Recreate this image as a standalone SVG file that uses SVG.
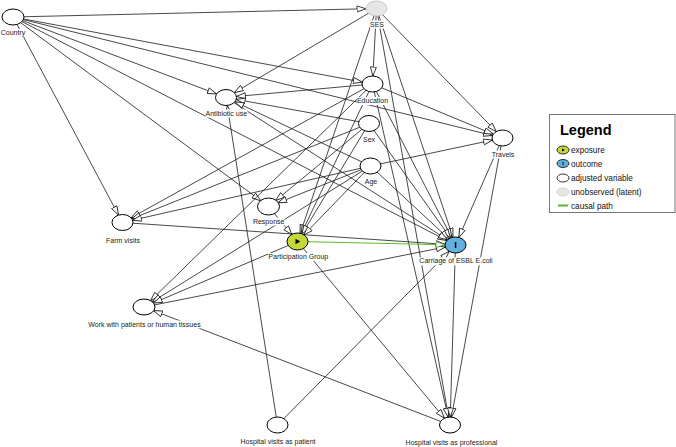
<svg xmlns="http://www.w3.org/2000/svg" width="676" height="447" viewBox="0 0 676 447">
<style>
.e{stroke:#1a1a1a;stroke-width:0.8;fill:none;marker-end:url(#ah)}
.n{fill:#fff;stroke:#000;stroke-width:1}
.lb{font-family:"Liberation Sans",Arial,sans-serif;font-size:7px;fill:#222;text-anchor:middle}
.bg{fill:#fff}
.lg{font-family:"Liberation Sans",Arial,sans-serif;font-size:8.2px;fill:#111}
</style>
<defs>
<marker id="ah" markerUnits="userSpaceOnUse" markerWidth="11" markerHeight="8" refX="9.5" refY="3.5" orient="auto">
<path d="M0.5,0.5 L9.5,3.5 L0.5,6.5 Z" fill="#fff" stroke="#111" stroke-width="0.8"/>
</marker>
<marker id="ahg" markerUnits="userSpaceOnUse" markerWidth="11" markerHeight="8" refX="9.5" refY="3.5" orient="auto">
<path d="M0.5,0.5 L9.5,3.5 L0.5,6.5 Z" fill="#fff" stroke="#4a9a2a" stroke-width="0.8"/>
</marker>
</defs>
<rect width="676" height="447" fill="#fff"/>
<g id="connectors">
<path class="e" d="M13,17 L366.0,8.75"/>
<path class="e" d="M13,17 L362.3,82.1"/>
<path class="e" d="M13,17 L492.5,135.5"/>
<path class="e" d="M13,17 L216.6,93.9"/>
<path class="e" d="M13,17 L446.8,240.5"/>
<path class="e" d="M13,17 L261.0,200.9"/>
<path class="e" d="M13,17 L118.5,215.1"/>
<path class="e" d="M376.5,8.5 L234.3,92.6"/>
<path class="e" d="M376.5,8.5 L372.9,76.0"/>
<path class="e" d="M376.5,8.5 L496.3,131.6"/>
<path class="e" d="M376.5,8.5 L300.1,233.8"/>
<path class="e" d="M376.5,8.5 L452.9,237.2"/>
<path class="e" d="M376.5,8.5 L448.6,417.1"/>
<path class="e" d="M372.5,84 L236.4,96.5"/>
<path class="e" d="M372.5,84 L493.3,134.2"/>
<path class="e" d="M372.5,84 L131.0,217.8"/>
<path class="e" d="M372.5,84 L301.1,234.0"/>
<path class="e" d="M372.5,84 L451.7,237.6"/>
<path class="e" d="M372.5,84 L448.2,417.1"/>
<path class="e" d="M372.5,84 L150.5,300.7"/>
<path class="e" d="M369,123.5 L236.2,99.4"/>
<path class="e" d="M369,123.5 L131.8,218.8"/>
<path class="e" d="M369,123.5 L275.6,200.6"/>
<path class="e" d="M369,123.5 L301.9,234.2"/>
<path class="e" d="M369,123.5 L450.5,238.0"/>
<path class="e" d="M370.5,166 L234.9,101.7"/>
<path class="e" d="M370.5,166 L492.4,140.1"/>
<path class="e" d="M370.5,166 L132.6,220.2"/>
<path class="e" d="M370.5,166 L277.8,202.8"/>
<path class="e" d="M370.5,166 L303.7,235.1"/>
<path class="e" d="M370.5,166 L448.9,238.8"/>
<path class="e" d="M370.5,166 L152.1,301.9"/>
<path class="e" d="M226,97.5 L447.5,239.8"/>
<path class="e" d="M277.5,425 L227.25,105.45"/>
<path class="e" d="M502.5,138 L458.8,237.4"/>
<path class="e" d="M502.5,138 L451.45,417.07"/>
<path class="e" d="M268.5,206.5 L291.9,234.7"/>
<path class="e" d="M122.5,222.5 L445.0,244.3"/>
<path class="e" d="M297.5,241.5 L444.4,418.25"/>
<path class="e" d="M297.5,241.5 L153.2,303.1"/>
<path class="e" d="M144,307 L445.4,247.0"/>
<path class="e" d="M277.5,425 L449.2,251.4"/>
<path class="e" d="M455.5,245 L450.25,417"/>
<path class="e" d="M450,425 L153.4,310.6"/>
<path d="M297.5,241.5 L445.0,244.8" fill="none" stroke="#5cb82f" stroke-width="1.1" marker-end="url(#ahg)"/>
</g>
<g id="node-country"><ellipse class="n" cx="13" cy="17" rx="11" ry="8"/><rect class="bg" x="0.5" y="29" width="25" height="8"/><text class="lb" x="13" y="35">Country</text></g>
<g id="node-ses"><ellipse cx="376.5" cy="8.5" rx="10.5" ry="7.5" fill="#e6e6e6" stroke="#c8c8c8" stroke-width="1"/><rect class="bg" x="370" y="20.5" width="14" height="8"/><text class="lb" x="377" y="26.5">SES</text></g>
<g id="node-education"><ellipse class="n" cx="372.5" cy="84" rx="10.5" ry="8"/><rect class="bg" x="357" y="97" width="31" height="8"/><text class="lb" x="372.5" y="103">Education</text></g>
<g id="node-antibiotic"><ellipse class="n" cx="226" cy="97.5" rx="10.5" ry="8"/><rect class="bg" x="205.5" y="109.5" width="42" height="8"/><text class="lb" x="226.3" y="115.5">Antibiotic use</text></g>
<g id="node-sex"><ellipse class="n" cx="369" cy="123.5" rx="10.5" ry="8"/><rect class="bg" x="363" y="135.5" width="12" height="8"/><text class="lb" x="369" y="141.5">Sex</text></g>
<g id="node-travels"><ellipse class="n" cx="502.5" cy="138" rx="10.5" ry="8"/><rect class="bg" x="491.5" y="150.5" width="23" height="8"/><text class="lb" x="503" y="156.5">Travels</text></g>
<g id="node-age"><ellipse class="n" cx="370.5" cy="166" rx="10.5" ry="8"/><rect class="bg" x="364.5" y="177.5" width="13" height="8"/><text class="lb" x="371" y="183.5">Age</text></g>
<g id="node-response"><ellipse class="n" cx="268.5" cy="206.5" rx="11" ry="8.5"/><rect class="bg" x="253" y="217.5" width="31.5" height="8"/><text class="lb" x="268.7" y="223.5">Response</text></g>
<g id="node-farm"><ellipse class="n" cx="122.5" cy="222.5" rx="10.5" ry="8"/><rect class="bg" x="106" y="237" width="34" height="8"/><text class="lb" x="123" y="243">Farm visits</text></g>
<g id="node-participation"><ellipse cx="297.5" cy="241.5" rx="10.5" ry="8.5" fill="#c5d83a" stroke="#000" stroke-width="1"/><path d="M295.5,238.8 L300.3,241.5 L295.5,244.2 Z" fill="#000"/><rect class="bg" x="268" y="253" width="60.5" height="8"/><text class="lb" x="298.3" y="259">Participation Group</text></g>
<g id="node-carriage"><ellipse cx="455.5" cy="245" rx="10.5" ry="8" fill="#62b0e0" stroke="#000" stroke-width="1"/><rect x="454.8" y="242" width="1.5" height="6" fill="#000"/><rect class="bg" x="419.5" y="257.3" width="73" height="8"/><text class="lb" x="456" y="263.3">Carriage of ESBL E.coli</text></g>
<g id="node-work"><ellipse class="n" cx="144" cy="307" rx="11" ry="8"/><rect class="bg" x="88.5" y="320.5" width="112" height="8"/><text class="lb" x="144.5" y="326.5">Work with patients or human tissues</text></g>
<g id="node-hosp-patient"><ellipse class="n" cx="277.5" cy="425" rx="10.5" ry="8"/><rect class="bg" x="240.5" y="438" width="75" height="8"/><text class="lb" x="278" y="444">Hospital visits as patient</text></g>
<g id="node-hosp-prof"><ellipse class="n" cx="450" cy="425" rx="10.5" ry="8"/><rect class="bg" x="405.5" y="438.5" width="92" height="8"/><text class="lb" x="451.5" y="444.5">Hospital visits as professional</text></g>
<g id="legend">
<rect x="549.5" y="114.5" width="125.5" height="98" fill="#fff" stroke="#777" stroke-width="1"/>
<text x="560" y="135" font-family="Liberation Sans, Arial, sans-serif" font-size="14.5" font-weight="bold" fill="#000">Legend</text>
<ellipse cx="563" cy="150" rx="6" ry="4" fill="#c5d83a" stroke="#000" stroke-width="0.8"/><path d="M562,148.5 L564.8,150 L562,151.5 Z" fill="#000"/>
<text class="lg" x="571" y="153">exposure</text>
<ellipse cx="563" cy="163.5" rx="6" ry="4" fill="#62b0e0" stroke="#000" stroke-width="0.8"/><rect x="562.6" y="161.8" width="0.9" height="3.4" fill="#000"/>
<text class="lg" x="571" y="166.5">outcome</text>
<ellipse cx="563" cy="178" rx="6" ry="4" fill="#fff" stroke="#000" stroke-width="0.8"/>
<text class="lg" x="571" y="181">adjusted variable</text>
<ellipse cx="563" cy="192" rx="6" ry="4" fill="#e6e6e6" stroke="#ccc" stroke-width="0.8"/>
<text class="lg" x="571" y="195">unobserved (latent)</text>
<line x1="558" y1="205.5" x2="568" y2="205.5" stroke="#5cb82f" stroke-width="2"/>
<text class="lg" x="571" y="208.5">causal path</text>
</g>
</svg>
